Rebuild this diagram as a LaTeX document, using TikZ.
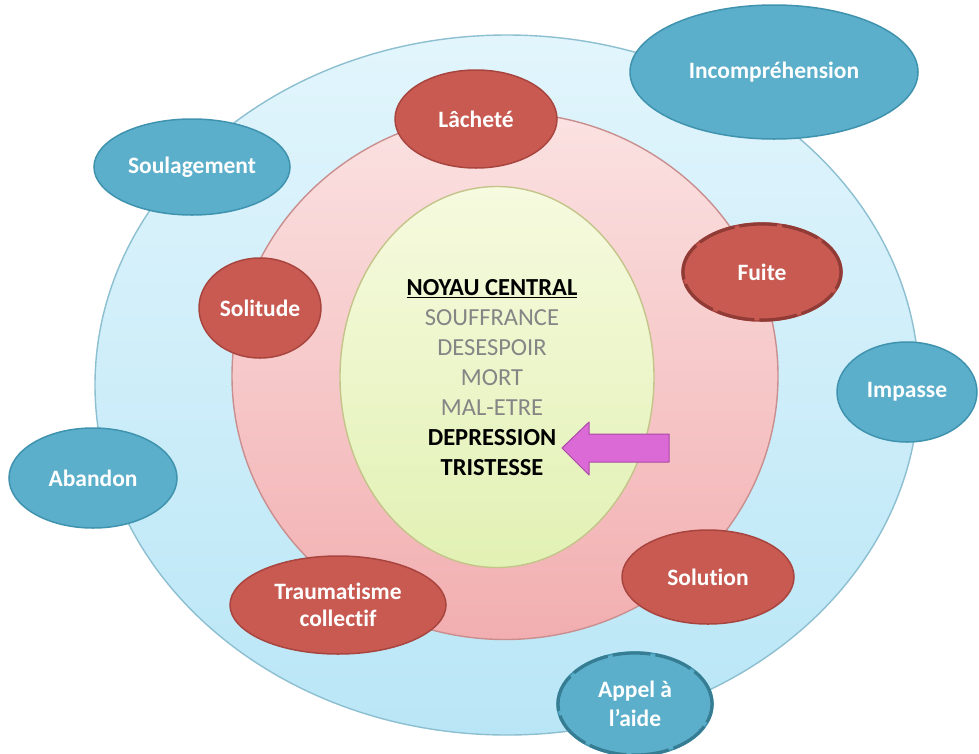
\documentclass[tikz,border=0pt]{standalone}
\usepackage{fontspec}
\setmainfont[Ligatures=NoCommon]{Carlito}
\usetikzlibrary{shapes.geometric}
\definecolor{outerTop}{HTML}{E2F5FC}
\definecolor{outerBot}{HTML}{B9E6F6}
\definecolor{outerLine}{HTML}{8CBFD0}
\definecolor{pinkTop}{HTML}{FBE2E2}
\definecolor{pinkBot}{HTML}{F2AEB0}
\definecolor{pinkLine}{HTML}{C98E8E}
\definecolor{greenTop}{HTML}{F6FADF}
\definecolor{greenBot}{HTML}{E2F1B4}
\definecolor{greenLine}{HTML}{C4C48A}
\definecolor{redFill}{HTML}{C85A52}
\definecolor{redLine}{HTML}{A9453F}
\definecolor{tealFill}{HTML}{5BAFCA}
\definecolor{tealLine}{HTML}{3F93AE}
\definecolor{arrowFill}{HTML}{DC6AD6}
\definecolor{arrowLine}{HTML}{A94AA6}
\definecolor{midGray}{HTML}{858585}
\tikzset{
  ring/.style={ellipse, inner sep=0pt, line width=1.4pt},
  redbub/.style={ellipse, inner sep=0pt, fill=redFill, draw=redLine, line width=1.5pt,
    text=white, font=\fontsize{23.5}{27}\selectfont\bfseries, align=center},
  tealbub/.style={ellipse, inner sep=0pt, fill=tealFill, draw=tealLine, line width=1.5pt,
    text=white, font=\fontsize{23.5}{29}\selectfont\bfseries, align=center},
  brokenrim/.style={line width=3.2pt, dash pattern=on 38pt off 5pt},
  coretext/.style={align=center, font=\fontsize{24.5}{30}\selectfont}
}
\begin{document}
\begin{tikzpicture}[x=1pt,y=-1pt]
\useasboundingbox (0,0) rectangle (979,753);
\fill[white] (0,0) rectangle (979,753);
% rings
\node[ring, minimum width=824pt, minimum height=700pt, top color=outerTop, bottom color=outerBot, draw=outerLine] (outer) at (507,385) {};
\node[ring, minimum width=546pt, minimum height=527pt, top color=pinkTop, bottom color=pinkBot, draw=pinkLine] (mid) at (505,376) {};
\node[ring, minimum width=314pt, minimum height=381pt, top color=greenTop, bottom color=greenBot, draw=greenLine] (core) at (497,377) {};
% central text
\node[coretext] (coretxt) at (492,378) {%
  \textbf{\underline{NOYAU CENTRAL}}\\
  \textcolor{midGray}{SOUFFRANCE}\\
  \textcolor{midGray}{DESESPOIR}\\
  \textcolor{midGray}{MORT}\\
  \textcolor{midGray}{MAL-ETRE}\\
  \textbf{DEPRESSION}\\
  \textbf{TRISTESSE}};
% red bubbles
\node[redbub, minimum width=162pt, minimum height=98pt] (lachete) at (476,119) {Lâcheté};
\node[redbub, minimum width=122pt, minimum height=100pt] (solitude) at (260,308) {Solitude};
\node[redbub, minimum width=160pt, minimum height=98pt] (fuite) at (762,272) {Fuite};
\draw[redLine!85!black, brokenrim] (fuite.center) ellipse [x radius=79pt, y radius=48pt];
\node[redbub, minimum width=172pt, minimum height=94pt] (solution) at (708,577) {Solution};
\node[redbub, minimum width=216pt, minimum height=98pt] (trauma) at (338,605) {Traumatisme\\collectif};
% teal bubbles
\node[tealbub, minimum width=288pt, minimum height=134pt] (incomp) at (774,72) {Incompréhension};
\node[tealbub, minimum width=196pt, minimum height=96pt] (soulag) at (192,167) {Soulagement};
\node[tealbub, minimum width=140pt, minimum height=100pt] (impasse) at (907,392) {Impasse};
\node[tealbub, minimum width=168pt, minimum height=100pt] (abandon) at (93,478) {Abandon};
\node[tealbub, minimum width=156pt, minimum height=104pt] (appel) at (635,704) {Appel à\\l'aide};
\draw[tealLine!85!black, brokenrim] (appel.center) ellipse [x radius=77pt, y radius=51pt];
% arrow
\filldraw[fill=arrowFill, draw=arrowLine, line width=1pt, line join=round]
  (562,448) coordinate (tip) -- (589,422) -- (589,434) -- (669,434) -- (669,462) -- (589,462) -- (589,475) -- cycle;
\end{tikzpicture}
\end{document}
